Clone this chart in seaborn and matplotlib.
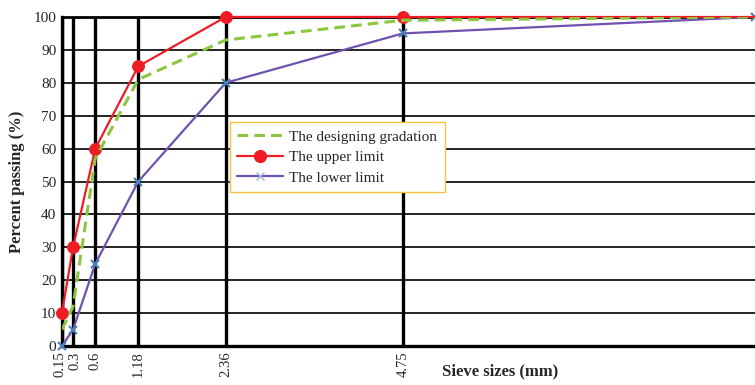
import matplotlib
matplotlib.use("Agg")
import matplotlib.pyplot as plt
import matplotlib.transforms as mtransforms
import seaborn as sns
import pandas as pd
from matplotlib.lines import Line2D

sieve = [0.15, 0.3, 0.6, 1.18, 2.36, 4.75, 9.5]
design = [5, 12, 57, 81, 93, 99, 100]
upper = [10, 30, 60, 85, 100, 100, 100]
lower = [0, 5, 25, 50, 80, 95, 100]
tick_sizes = [0.15, 0.3, 0.6, 1.18, 2.36, 4.75]
tick_labels = ["0.15", "0.3", "0.6", "1.18", "2.36", "4.75"]
y_ticks = list(range(0, 101, 10))

sns.set_theme(style="white")
plt.rcParams['font.family'] = ['Liberation Serif', 'DejaVu Serif']

fig = plt.figure(figsize=(7.55, 3.85), dpi=100)
ax = fig.add_axes([0.082, 0.101, 0.918, 0.855])

c_green = "#8cc63f"
c_red = "#ee1c25"
c_purple = "#6f52b0"

df_d = pd.DataFrame({"x": sieve, "y": design})
df_u = pd.DataFrame({"x": sieve, "y": upper})
df_l = pd.DataFrame({"x": sieve, "y": lower})

# grid lines
for s in tick_sizes:
    ax.axvline(s, color="black", lw=2.4, zorder=1)
for yv in y_ticks:
    ax.axhline(yv, color="black", lw=2.0 if yv == 100 else 1.2, zorder=1, clip_on=False)

sns.lineplot(data=df_l, x="x", y="y", ax=ax, color=c_purple, lw=1.6,
             marker="x", markersize=6, markeredgecolor="#4a7ebb",
             markeredgewidth=1.5, zorder=3, clip_on=False)
sns.lineplot(data=df_u[df_u["x"] <= 4.75], x="x", y="y", ax=ax, color=c_red, lw=1.6,
             marker="o", markersize=8.5, markeredgecolor=c_red, zorder=4, clip_on=False)
sns.lineplot(data=df_u[df_u["x"] >= 4.75], x="x", y="y", ax=ax, color=c_red, lw=1.6,
             zorder=4, clip_on=False)
sns.lineplot(data=df_d, x="x", y="y", ax=ax, color=c_green, lw=2.2,
             linestyle=(0, (3.5, 2)), zorder=5)

ax.set_xlim(0.15, 9.5)
ax.set_ylim(0, 100)
ax.set_xticks(tick_sizes)
ax.set_xticklabels(tick_labels, rotation=90, fontsize=10.5)
ax.set_yticks(y_ticks)
ax.set_yticklabels([str(v) for v in y_ticks], fontsize=11)
ax.tick_params(axis="both", length=0, pad=4)
# nudge the two crowded labels apart slightly
xl = ax.get_xticklabels()
xl[0].set_transform(xl[0].get_transform() + mtransforms.ScaledTranslation(-2/100, 0, fig.dpi_scale_trans))
xl[1].set_transform(xl[1].get_transform() + mtransforms.ScaledTranslation(1.5/100, 0, fig.dpi_scale_trans))
ax.set_xlabel("")
ax.set_ylabel("Percent passing (%)", fontsize=12, fontweight="bold", labelpad=6)
fig.text(0.585, 0.035, "Sieve sizes (mm)", fontsize=12, fontweight="bold",
         ha="left", va="center")

for side in ["left", "bottom"]:
    ax.spines[side].set_color("black")
    ax.spines[side].set_linewidth(2.4)
ax.spines["top"].set_visible(False)
ax.spines["right"].set_visible(False)

handles = [
    Line2D([], [], color=c_green, lw=2.2, linestyle=(0, (3.5, 2))),
    Line2D([], [], color=c_red, lw=1.6, marker="o", markersize=8.5),
    Line2D([], [], color=c_purple, lw=1.6, marker="x", markersize=6,
           markeredgecolor="#9bb7e0"),
]
labels = ["The designing gradation", "The upper limit", "The lower limit"]
leg = ax.legend(handles, labels, loc="upper left", bbox_to_anchor=(0.231, 0.703),
                frameon=True, fancybox=False, fontsize=11, handlelength=3.0,
                borderpad=0.5, labelspacing=0.45, handletextpad=0.4)
leg.get_frame().set_edgecolor("#f5c242")
leg.get_frame().set_linewidth(1.0)
leg.get_frame().set_facecolor("white")
leg.get_frame().set_alpha(1)
leg.set_zorder(10)

fig.savefig("out.png", dpi=100)
